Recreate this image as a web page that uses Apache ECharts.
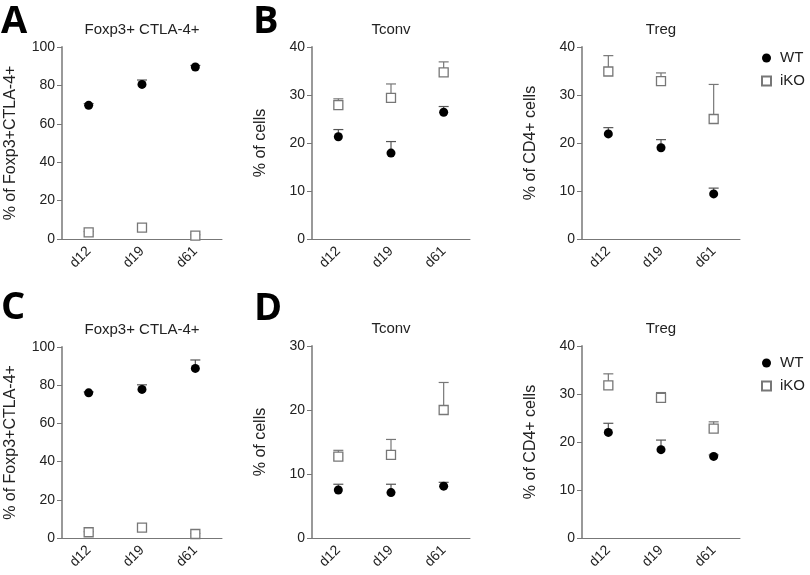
<!DOCTYPE html>
<html>
<head>
<meta charset="utf-8">
<script src="https://cdn.jsdelivr.net/npm/echarts@6/dist/echarts.min.js"></script>
<style>html,body{margin:0;padding:0;background:#fff}#c{width:810px;height:575px}</style>
</head>
<body>
<div id="c"></div>
<script>
const categories = ['d12', 'd19', 'd61'];

// Panel A: Foxp3+ CTLA-4+
const aWT = [69.6, 80.5, 89.6];
const aWTErr = [70.5, 82.8, 90.4];
const aKO = [3.5, 5.9, 1.8];
const aKOErr = [3.9, 6.3, 2.2];

// Panel B: Tconv
const bTconvWT = [21.3, 17.9, 26.4];
const bTconvWTErr = [22.8, 20.3, 27.6];
const bTconvKO = [27.9, 29.4, 34.7];
const bTconvKOErr = [29.2, 32.3, 36.9];

// Panel B: Treg
const bTregWT = [21.9, 19.0, 9.4];
const bTregWTErr = [23.2, 20.7, 10.6];
const bTregKO = [34.9, 32.9, 25.0];
const bTregKOErr = [38.2, 34.6, 32.2];

// Panel C: Foxp3+ CTLA-4+
const cWT = [76.0, 77.8, 88.8];
const cWTErr = [76.5, 80.2, 93.2];
const cKO = [3.0, 5.4, 2.1];
const cKOErr = [3.3, 5.8, 2.4];

// Panel D: Tconv
const dTconvWT = [7.5, 7.1, 8.1];
const dTconvWTErr = [8.4, 8.4, 8.7];
const dTconvKO = [12.7, 13.0, 20.0];
const dTconvKOErr = [13.7, 15.4, 24.3];

// Panel D: Treg
const dTregWT = [22.0, 18.4, 17.0];
const dTregWTErr = [23.9, 20.4, 17.3];
const dTregKO = [31.8, 29.2, 22.8];
const dTregKOErr = [34.2, 30.3, 24.2];

const panelTitles = ['Foxp3+ CTLA-4+', 'Tconv', 'Treg', 'Foxp3+ CTLA-4+', 'Tconv', 'Treg'];
const yNames = ['% of Foxp3+CTLA-4+', '% of cells', '% of CD4+ cells', '% of Foxp3+CTLA-4+', '% of cells', '% of CD4+ cells'];
const yMax = [100, 40, 40, 100, 30, 40];
const yInterval = [20, 10, 10, 20, 10, 10];
const panelLetters = ['A', 'B', 'C', 'D'];

const panels = [
  [aWT, aWTErr, aKO, aKOErr],
  [bTconvWT, bTconvWTErr, bTconvKO, bTconvKOErr],
  [bTregWT, bTregWTErr, bTregKO, bTregKOErr],
  [cWT, cWTErr, cKO, cKOErr],
  [dTconvWT, dTconvWTErr, dTconvKO, dTconvKOErr],
  [dTregWT, dTregWTErr, dTregKO, dTregKOErr]
];

const FONT = '"Liberation Sans", Arial, sans-serif';
const grids = [
  {left: 62, top: 47, width: 160, height: 192},
  {left: 312, top: 47, width: 158, height: 192},
  {left: 582, top: 47, width: 158, height: 192},
  {left: 62, top: 347, width: 160, height: 191},
  {left: 312, top: 346, width: 158, height: 192},
  {left: 582, top: 346, width: 158, height: 192}
];

const xAxes = [], yAxes = [], series = [], graphics = [];
grids.forEach((g, i) => {
  xAxes.push({
    type: 'category', gridIndex: i, data: categories, boundaryGap: true,
    axisLine: {lineStyle: {color: '#777', width: 1}},
    axisTick: {alignWithLabel: true, length: 5, lineStyle: {color: '#777'}},
    axisLabel: {rotate: 45, fontSize: 14, color: '#222', fontFamily: FONT, margin: 10}
  });
  yAxes.push({
    type: 'value', gridIndex: i, min: 0, max: yMax[i], interval: yInterval[i],
    name: yNames[i], nameLocation: 'middle', nameGap: 43, nameRotate: 90,
    nameTextStyle: {fontSize: 16, color: '#222', fontFamily: FONT},
    splitLine: {show: false},
    axisLine: {show: true, lineStyle: {color: '#999', width: 2}},
    axisTick: {show: true, length: 5, lineStyle: {color: '#777'}},
    axisLabel: {fontSize: 14, color: '#222', fontFamily: FONT, margin: 7}
  });
  const [wt, wtErr, ko, koErr] = panels[i];
  const errSeries = (vals, tops, color) => ({
    type: 'custom', xAxisIndex: i, yAxisIndex: i, z: 2, silent: true,
    data: vals.map((v, k) => [k, v, tops[k]]),
    renderItem: (params, api) => {
      const p = api.coord([api.value(0), api.value(1)]);
      const t = api.coord([api.value(0), api.value(2)]);
      const st = {stroke: color, lineWidth: 1.2};
      return {type: 'group', children: [
        {type: 'line', shape: {x1: p[0], y1: p[1], x2: t[0], y2: t[1]}, style: st},
        {type: 'line', shape: {x1: t[0] - 5, y1: t[1], x2: t[0] + 5, y2: t[1]}, style: st}
      ]};
    }
  });
  series.push(errSeries(wt, wtErr, '#555'));
  series.push(errSeries(ko, koErr, '#777'));
  series.push({
    name: 'WT', type: 'scatter', xAxisIndex: i, yAxisIndex: i, z: 3,
    symbol: 'circle', symbolSize: 9, data: wt,
    itemStyle: {color: '#000', opacity: 1}
  });
  series.push({
    name: 'iKO', type: 'scatter', xAxisIndex: i, yAxisIndex: i, z: 3,
    symbol: 'rect', symbolSize: 9, data: ko,
    itemStyle: {color: '#fff', borderColor: '#777', borderWidth: 1.3, opacity: 1}
  });
  graphics.push({
    type: 'text', x: g.left + g.width / 2, y: g.top - 17,
    style: {text: panelTitles[i], font: '15px ' + FONT, fill: '#222', textAlign: 'center', textVerticalAlign: 'middle'}
  });
});

const letterPos = [[1, 3], [253, 3], [1, 289], [254, 290]];
panelLetters.forEach((L, i) => {
  graphics.push({
    type: 'text', x: letterPos[i][0], y: letterPos[i][1],
    style: {text: L, font: 'bold 38px "Open Sans", sans-serif', fill: '#000', textAlign: 'left', textVerticalAlign: 'top'}
  });
});

const legendBase = {
  orient: 'vertical', itemWidth: 9, itemHeight: 9, itemGap: 7,
  left: 756,
  textStyle: {fontSize: 15, color: '#222', fontFamily: FONT, lineHeight: 16, padding: [0, 0, 0, 4]},
  data: [{name: 'WT', icon: 'circle'}, {name: 'iKO', icon: 'rect'}]
};

const chart = echarts.init(document.getElementById('c'), null, {renderer: 'canvas'});
chart.setOption({
  backgroundColor: '#fff',
  animation: false,
  grid: grids,
  xAxis: xAxes,
  yAxis: yAxes,
  legend: [
    Object.assign({}, legendBase, {top: 45}),
    Object.assign({}, legendBase, {top: 350})
  ],
  graphic: graphics,
  series: series
});
</script>
</body>
</html>
